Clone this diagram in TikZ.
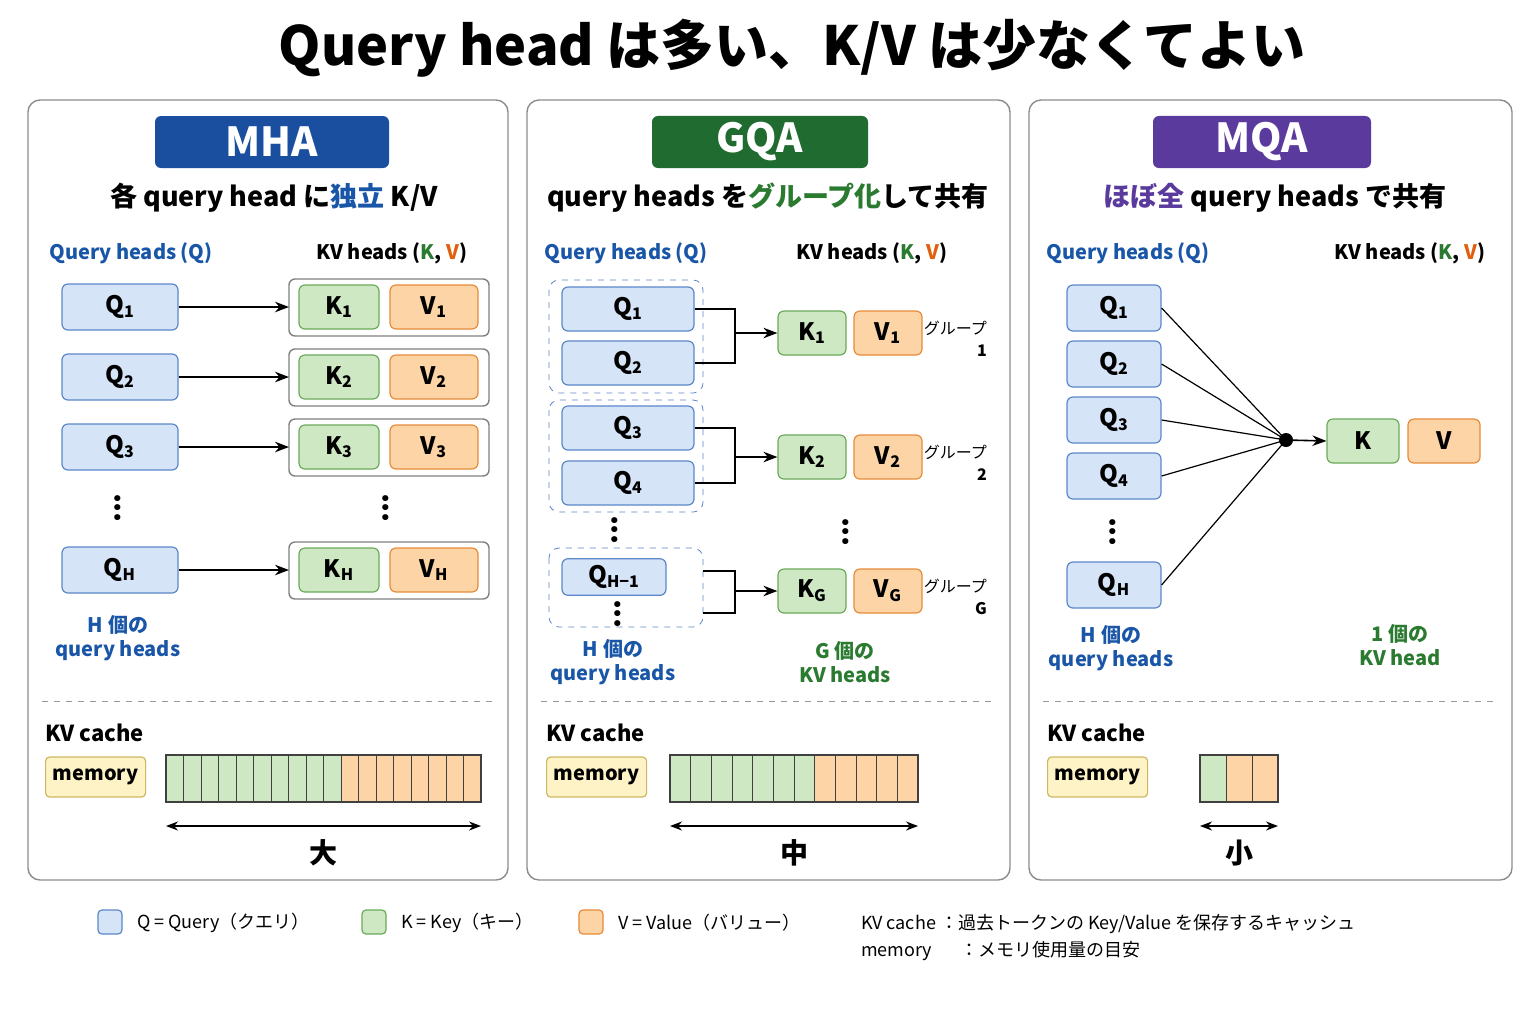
\documentclass[tikz,border=0pt]{standalone}
\usepackage{fontspec}
\setmainfont{Noto Sans CJK JP}
\usetikzlibrary{arrows.meta,positioning}
\definecolor{qfill}{HTML}{D6E4F7}\definecolor{qline}{HTML}{5B87C9}
\definecolor{kfill}{HTML}{CFE8C4}\definecolor{kline}{HTML}{6AAA5A}
\definecolor{vfill}{HTML}{FDD4A6}\definecolor{vline}{HTML}{E58B3A}
\definecolor{mfill}{HTML}{FDF3C6}\definecolor{mline}{HTML}{CDB862}
\definecolor{tblue}{HTML}{1A56A8}\definecolor{tgreen}{HTML}{2A7A30}
\definecolor{torange}{HTML}{E06010}\definecolor{tpurple}{HTML}{5B3A9E}
\definecolor{hblue}{HTML}{1A4FA0}\definecolor{hgreen}{HTML}{1F6B30}
\tikzstyle{panel}=[draw=black!45,rounded corners=6pt,line width=0.7pt]
\tikzstyle{badge}=[rounded corners=3pt,text=white,font=\fontsize{20}{22}\selectfont\bfseries,minimum height=26pt]
\tikzstyle{qbox}=[draw=qline,fill=qfill,rounded corners=3pt,minimum height=23pt,font=\fontsize{12}{14}\selectfont\bfseries,line width=0.6pt]
\tikzstyle{kbox}=[draw=kline,fill=kfill,rounded corners=3pt,minimum height=22pt,font=\fontsize{12}{14}\selectfont\bfseries,line width=0.6pt]
\tikzstyle{vbox}=[draw=vline,fill=vfill,rounded corners=3pt,minimum height=22pt,font=\fontsize{12}{14}\selectfont\bfseries,line width=0.6pt]
\tikzstyle{mem}=[draw=mline,fill=mfill,rounded corners=2pt,line width=0.6pt,minimum width=50pt,minimum height=20pt,font=\fontsize{10}{12}\selectfont\bfseries]
\tikzstyle{sub}=[font=\fontsize{13.5}{16}\selectfont\bfseries]
\tikzstyle{col}=[font=\fontsize{10}{12}\selectfont\bfseries]
\tikzstyle{note}=[font=\fontsize{10}{12}\selectfont\bfseries,align=center]
\tikzstyle{arr}=[-{Stealth[length=7pt]},line width=0.8pt]
\tikzstyle{dotsv}=[font=\fontsize{14}{14}\selectfont\bfseries]
\newcommand{\hsub}[1]{\textsubscript{#1}}
\begin{document}
\begin{tikzpicture}[x=0.5pt,y=-0.5pt]
\useasboundingbox[fill=white] (0,0) rectangle (1536,1024);
\node[font=\fontsize{27}{30}\selectfont\bfseries] (title) at (792,48) {Query head は多い、K/V は少なくてよい};

% panels
\draw[panel] (28,100) rectangle (508,880);
\draw[panel] (527,100) rectangle (1010,880);
\draw[panel] (1029,100) rectangle (1512,880);
\node[badge,fill=hblue,minimum width=117pt] (mha) at (272,142) {MHA};
\node[badge,fill=hgreen,minimum width=108pt] (gqa) at (760,142) {GQA};
\node[badge,fill=tpurple,minimum width=109pt] (mqa) at (1262,142) {MQA};
\node[sub] (mhasub) at (274,198) {各 query head に\textcolor{tblue}{独立} K/V};
\node[sub] (gqasub) at (768,198) {query heads を\textcolor{tgreen}{グループ化}して共有};
\node[sub] (mqasub) at (1275,198) {\textcolor{tpurple}{ほぼ全} query heads で共有};

% MHA
\node[col,text=tblue] (mhaq) at (131,253) {Query heads (Q)};
\node[col] (mhakv) at (392,253) {KV heads (\textcolor{tgreen}{K}, \textcolor{torange}{V})};
\foreach \i/\y/\s in {1/307/1,2/377/2,3/447/3,H/570/H}{
  \node[qbox,minimum width=58pt] (mq\i) at (120,\y) {Q\hsub{\s}};
  \draw[draw=black!50,rounded corners=3pt,line width=0.7pt] (289,\y-28) rectangle (489,\y+29);
  \coordinate (mg\i) at (289,\y);
  \node[kbox,minimum width=40pt] (mk\i) at (339,\y) {K\hsub{\s}};
  \node[vbox,minimum width=44pt] (mv\i) at (434,\y) {V\hsub{\s}};
  \draw[arr] (mq\i.east) -- (mg\i);
}
\node[dotsv] (md1) at (118,508) {\rotatebox{90}{...}};
\node[dotsv] (md2) at (386,508) {\rotatebox{90}{...}};
\node[note,text=tblue] (mhan) at (118,638) {H 個の\\query heads};

% GQA
\node[col,text=tblue] (gqaq) at (626,253) {Query heads (Q)};
\node[col] (gqakv) at (872,253) {KV heads (\textcolor{tgreen}{K}, \textcolor{torange}{V})};
\draw[dashed,draw=qline,rounded corners=5pt] (549,280) rectangle (703,393);
\draw[dashed,draw=qline,rounded corners=5pt] (549,400) rectangle (703,512);
\draw[dashed,draw=qline,rounded corners=5pt] (549,548) rectangle (703,627);
\foreach \i/\y in {1/309,2/363,3/428,4/483}{
  \node[qbox,minimum width=66pt,minimum height=22pt] (gq\i) at (628,\y) {Q\hsub{\i}};
}
\node[qbox,minimum width=52pt,minimum height=18pt] (gqh) at (614,577) {Q\hsub{H−1}};
\node[dotsv] (gd0) at (618,614) {\rotatebox{90}{...}};
\node[dotsv] (gd1) at (615,530) {\rotatebox{90}{...}};
\node[dotsv] (gd2) at (846,532) {\rotatebox{90}{...}};
\coordinate (gh1) at (703,571);
\coordinate (gh2) at (703,613);
\foreach \i/\y/\s/\g in {1/333/1/1,2/457/2/2,G/591/G/G}{
  \node[kbox,minimum width=34pt] (gk\i) at (812,\y) {K\hsub{\s}};
  \node[vbox,minimum width=34pt] (gv\i) at (888,\y) {V\hsub{\s}};
  \coordinate (gj\i) at (735,\y);
  \node[font=\fontsize{8}{11}\selectfont,align=right,anchor=east] (gl\i) at (994,\y+6) {グループ\\\textbf{\g}};
  \draw[arr] (gj\i) -- (gk\i.west);
}
\draw[line width=0.8pt] (gq1.east) -| (gj1) |- (gq2.east);
\draw[line width=0.8pt] (gq3.east) -| (gj2) |- (gq4.east);
\draw[line width=0.8pt] (gh1) -| (gjG) |- (gh2);
\node[note,text=tblue] (gqan) at (613,662) {H 個の\\query heads};
\node[note,text=tgreen] (gqak) at (845,662) {G 個の\\KV heads};

% MQA
\node[col,text=tblue] (mqaq) at (1128,253) {Query heads (Q)};
\node[col] (mqakv) at (1410,253) {KV heads (\textcolor{tgreen}{K}, \textcolor{torange}{V})};
\coordinate (qj) at (1286,440);
\foreach \i/\y/\s in {1/308/1,2/364/2,3/420/3,4/476/4,H/585/H}{
  \node[qbox,minimum width=47pt] (qq\i) at (1114,\y) {Q\hsub{\s}};
  \draw[line width=0.6pt] (qq\i.east) -- (qj);
}
\fill (qj) circle (3.5pt);
\node[dotsv] (qd) at (1113,532) {\rotatebox{90}{...}};
\node[kbox,minimum width=36pt] (qk) at (1363,441) {K};
\node[vbox,minimum width=36pt] (qv) at (1444,441) {V};
\draw[arr] (qj) -- (qk.west);
\node[note,text=tblue] (mqan) at (1111,648) {H 個の\\query heads};
\node[note,text=tgreen] (mqak) at (1400,645) {1 個の\\KV head};

% KV cache
\foreach \p/\x/\m/\a/\ng/\no/\w/\c in {m/28/45/166/10/8/17.5/大,g/527/546/670/7/5/20.67/中,q/1029/1047/1200/1/2/26/小}{
  \draw[dashed,draw=black!40] (\x+14,701) -- (\x+465,701);
  \node[font=\fontsize{11}{13}\selectfont\bfseries,anchor=west,inner sep=0pt] (\p cache) at (\m,733) {KV cache};
  \node[mem,anchor=west] (\p mem) at (\m,777) {memory};
  \foreach \k in {1,...,\ng}{
    \draw[draw=black!75,fill=kfill] ({\a+(\k-1)*\w},755) rectangle ({\a+\k*\w},802);
  }
  \foreach \k in {1,...,\no}{
    \draw[draw=black!75,fill=vfill] ({\a+(\ng+\k-1)*\w},755) rectangle ({\a+(\ng+\k)*\w},802);
  }
  \draw[draw=black!75,line width=0.8pt] (\a,755) rectangle ({\a+(\ng+\no)*\w},802);
  \coordinate (\p l) at (\a,826);
  \coordinate (\p r) at ({\a+(\ng+\no)*\w},826);
  \draw[{Stealth[length=6pt]}-{Stealth[length=6pt]},line width=0.8pt] (\p l) -- (\p r);
  \node[font=\fontsize{14}{16}\selectfont\bfseries] (\p size) at ({\a+(\ng+\no)*\w/2},853) {\c};
}

% legend
\foreach \n/\f/\l/\x/\t in {lq/qfill/qline/110/Q = Query（クエリ）,lk/kfill/kline/374/K = Key（キー）,lv/vfill/vline/591/V = Value（バリュー）}{
  \draw[draw=\l,fill=\f,rounded corners=2pt,line width=0.6pt] (\x-12,910) rectangle (\x+12,934);
  \node[font=\fontsize{9}{11}\selectfont,anchor=west] (\n) at (\x+20,923) {\t};
}
\node[font=\fontsize{9}{11}\selectfont,anchor=west] (lc) at (854,924) {KV cache ：過去トークンの Key/Value を保存するキャッシュ};
\node[font=\fontsize{9}{11}\selectfont,anchor=west] (lm) at (854,951) {memory\hspace{1.6em}：メモリ使用量の目安};
\end{tikzpicture}
\end{document}
